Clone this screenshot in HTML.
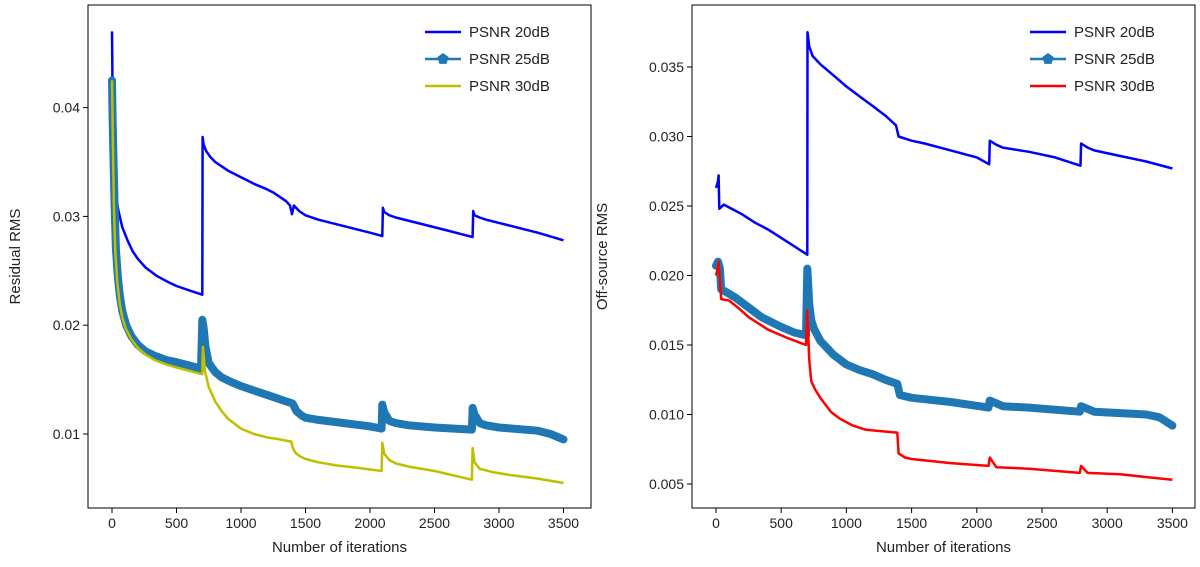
<!DOCTYPE html>
<html><head><meta charset="utf-8"><style>
body{margin:0;background:#fff;}
svg{display:block;font-family:"Liberation Sans","DejaVu Sans",sans-serif;}
</style></head><body>
<svg id="c" width="1200" height="567" viewBox="0 0 1200 567"></svg>
<script>
const L_x20=[0,5,10,20,35,50,80,120,160,200,260,350,430,500,600,700,702,710,730,760,800,850,900,1000,1100,1200,1250,1300,1350,1380,1395,1410,1450,1500,1600,1800,2000,2095,2100,2110,2150,2200,2400,2600,2795,2800,2810,2850,2900,3100,3300,3500];
const L_y20=[0.047,0.041,0.036,0.0330,0.0315,0.0305,0.0290,0.0278,0.0268,0.0261,0.0253,0.0245,0.0240,0.0236,0.0232,0.0228,0.0373,0.0366,0.0360,0.0355,0.0350,0.0346,0.0342,0.0336,0.0330,0.0325,0.0322,0.0318,0.0314,0.0310,0.0302,0.0310,0.0305,0.0301,0.0297,0.0291,0.0285,0.0282,0.0308,0.0304,0.0301,0.0299,0.0293,0.0287,0.0281,0.0305,0.0301,0.0299,0.0297,0.0291,0.0285,0.0278];
const L_x25=[0,5,10,20,30,45,60,80,110,150,200,260,330,420,500,600,690,700,710,725,750,800,850,920,1000,1100,1200,1300,1350,1400,1430,1470,1500,1600,1800,2000,2090,2095,2110,2150,2200,2300,2500,2790,2795,2810,2850,2900,3000,3200,3300,3400,3500];
const L_y25=[0.0425,0.039,0.036,0.031,0.027,0.0245,0.0228,0.0213,0.0200,0.0190,0.0182,0.0176,0.0172,0.0168,0.0166,0.0163,0.0160,0.0205,0.0198,0.0180,0.0165,0.0157,0.0152,0.0148,0.0144,0.0140,0.0136,0.0132,0.0130,0.0128,0.0121,0.0117,0.0115,0.0113,0.0110,0.0107,0.0105,0.0127,0.0120,0.0112,0.0110,0.0108,0.0106,0.0104,0.0124,0.0118,0.0110,0.0108,0.0106,0.0104,0.0103,0.0100,0.0095];
const L_x30=[0,8,15,25,40,60,80,110,150,200,260,330,420,500,600,700,705,720,750,800,850,900,1000,1100,1200,1300,1390,1400,1420,1450,1500,1600,1750,1900,2090,2095,2110,2150,2200,2300,2500,2790,2795,2810,2850,2950,3100,3300,3500];
const L_y30=[0.0425,0.036,0.031,0.027,0.0240,0.0220,0.0207,0.0196,0.0187,0.0179,0.0173,0.0168,0.0164,0.0161,0.0158,0.0155,0.0180,0.0158,0.0143,0.0130,0.0121,0.0114,0.0105,0.0100,0.0097,0.0095,0.0093,0.0088,0.0083,0.0080,0.0077,0.0074,0.0071,0.0069,0.0066,0.0092,0.0082,0.0076,0.0073,0.0070,0.0066,0.0058,0.0087,0.0074,0.0068,0.0065,0.0062,0.0059,0.0055];
const R_x20=[0,10,15,20,25,60,100,200,300,400,550,700,702,715,740,800,900,1000,1100,1200,1300,1380,1400,1500,1600,1800,2000,2095,2100,2150,2200,2400,2600,2795,2800,2850,2900,3100,3300,3500];
const R_y20=[0.0263,0.0266,0.0268,0.0272,0.0248,0.0251,0.0249,0.0244,0.0238,0.0233,0.0224,0.0215,0.0375,0.0365,0.0358,0.0352,0.0344,0.0336,0.0329,0.0322,0.0315,0.0308,0.0300,0.0297,0.0295,0.0290,0.0285,0.0280,0.0297,0.0294,0.0292,0.0289,0.0285,0.0279,0.0295,0.0292,0.0290,0.0286,0.0282,0.0277];
const R_x25=[0,15,30,40,80,150,250,350,500,600,690,700,705,715,730,750,800,900,1000,1100,1200,1300,1390,1410,1500,1600,1800,2090,2100,2200,2400,2790,2800,2900,3100,3300,3400,3500];
const R_y25=[0.0207,0.0210,0.0205,0.0190,0.0188,0.0184,0.0177,0.0170,0.0163,0.0159,0.0157,0.0205,0.0198,0.0180,0.0168,0.0162,0.0153,0.0143,0.0136,0.0132,0.0129,0.0125,0.0122,0.0114,0.0112,0.0111,0.0109,0.0105,0.0110,0.0106,0.0105,0.0102,0.0106,0.0102,0.0101,0.0100,0.0098,0.0092];
const R_x30=[0,10,20,40,100,180,250,400,550,690,700,715,730,760,800,880,950,1050,1150,1390,1400,1450,1500,1800,2090,2100,2150,2400,2790,2800,2850,3100,3500];
const R_y30=[0.0200,0.0204,0.0210,0.0183,0.0182,0.0176,0.0170,0.0161,0.0155,0.0150,0.0175,0.0140,0.0124,0.0118,0.0112,0.0102,0.0097,0.0092,0.0089,0.0087,0.0072,0.0069,0.0068,0.0065,0.0063,0.0069,0.0062,0.0061,0.0058,0.0063,0.0058,0.0057,0.0053];
const xTicks=[0,500,1000,1500,2000,2500,3000,3500];
const L_yTicks=[0.01,0.02,0.03,0.04];
const R_yTicks=[0.005,0.010,0.015,0.020,0.025,0.030,0.035];
const legendLabels=['PSNR 20dB','PSNR 25dB','PSNR 30dB'];

const svg=document.getElementById('c');
const NS='http://www.w3.org/2000/svg';
function mk(tag,attrs,parent){const e=document.createElementNS(NS,tag);for(const k in attrs)e.setAttribute(k,attrs[k]);(parent||svg).appendChild(e);return e;}

function panel(p){
  const g=mk('g',{});
  
  
  const sx=v=>p.x0+v*p.kx, sy=v=>p.y0-(v-p.v0)*p.ky;
  const clipId='clip'+p.name;
  const cp=mk('clipPath',{id:clipId},g);mk('rect',{x:p.L,y:p.T,width:p.R-p.L,height:p.B-p.T},cp);
  const sg=mk('g',{'clip-path':'url(#'+clipId+')'},g);
  p.series.forEach((s,i)=>{
    const pts=s.x.map((v,j)=>sx(v).toFixed(1)+','+sy(s.y[j]).toFixed(1)).join(' ');
    if(s.thick){
      const th=mk('polyline',{points:pts,fill:'none',stroke:s.c,'stroke-width':8,'stroke-linejoin':'round','stroke-linecap':'round'},sg);
      
      
    }
    const ln=mk('polyline',{points:pts,fill:'none',stroke:s.c,'stroke-width':2.5,'stroke-linejoin':'round'},sg);
    
    
  });
  mk('rect',{x:p.L,y:p.T,width:p.R-p.L,height:p.B-p.T,fill:'none',stroke:'#000','stroke-width':1},g);
  xTicks.forEach(t=>{
    const X=sx(t);
    mk('line',{x1:X,x2:X,y1:p.B,y2:p.B+5,stroke:'#000'},g);
    const tx=mk('text',{x:X,y:p.B+20,'text-anchor':'middle','font-size':14,fill:'#222'},g);tx.textContent=t;
    
    
  });
  p.yt.forEach(t=>{
    const Y=sy(t);
    mk('line',{x1:p.L-5,x2:p.L,y1:Y,y2:Y,stroke:'#000'},g);
    const tx=mk('text',{x:p.L-8,y:Y+5,'text-anchor':'end','font-size':14,fill:'#222'},g);tx.textContent=t.toFixed(p.dec);
    
    
  });
  const xt=mk('text',{x:(p.L+p.R)/2,y:p.B+44,'text-anchor':'middle','font-size':15,fill:'#222'},g);xt.textContent='Number of iterations';
  
  
  const yc=(p.T+p.B)/2;
  const yt=mk('text',{x:p.ytx,y:yc,'text-anchor':'middle','font-size':15,fill:'#222',transform:'rotate(-90 '+p.ytx+' '+yc+')'},g);yt.textContent=p.ylabel;
  
  
  legendLabels.forEach((lab,i)=>{
    const Y=p.T+27+i*27, s=p.series[i];
    const le=mk('g',{},g);
    
    
    mk('line',{x1:p.lx,x2:p.lx+36,y1:Y,y2:Y,stroke:s.c,'stroke-width':2.5},le);
    if(s.thick) mk('polygon',{points:[0,1,2,3,4].map(k=>{const a=-Math.PI/2+k*2*Math.PI/5;return (p.lx+18+6*Math.cos(a)).toFixed(1)+','+(Y+6*Math.sin(a)).toFixed(1);}).join(' '),fill:s.c},le);
    const tx=mk('text',{x:p.lx+44,y:Y+5,'font-size':15,fill:'#222'},le);tx.textContent=lab;
  });
}
panel({name:'left-panel',L:88,R:591,T:5,B:508,x0:112,kx:0.129,y0:434,v0:0.01,ky:10880,yt:L_yTicks,dec:2,ylabel:'Residual RMS',ytx:20,lx:425,
  series:[{x:L_x20,y:L_y20,c:'#0000ff'},{x:L_x25,y:L_y25,c:'#1f77b4',thick:true},{x:L_x30,y:L_y30,c:'#bfbf00'}]});
panel({name:'right-panel',L:692,R:1195,T:5,B:508,x0:716,kx:0.1304,y0:484,v0:0.005,ky:13900,yt:R_yTicks,dec:3,ylabel:'Off-source RMS',ytx:607,lx:1030,
  series:[{x:R_x20,y:R_y20,c:'#0000ff'},{x:R_x25,y:R_y25,c:'#1f77b4',thick:true},{x:R_x30,y:R_y30,c:'#ff0000'}]});
</script>
</body></html>
